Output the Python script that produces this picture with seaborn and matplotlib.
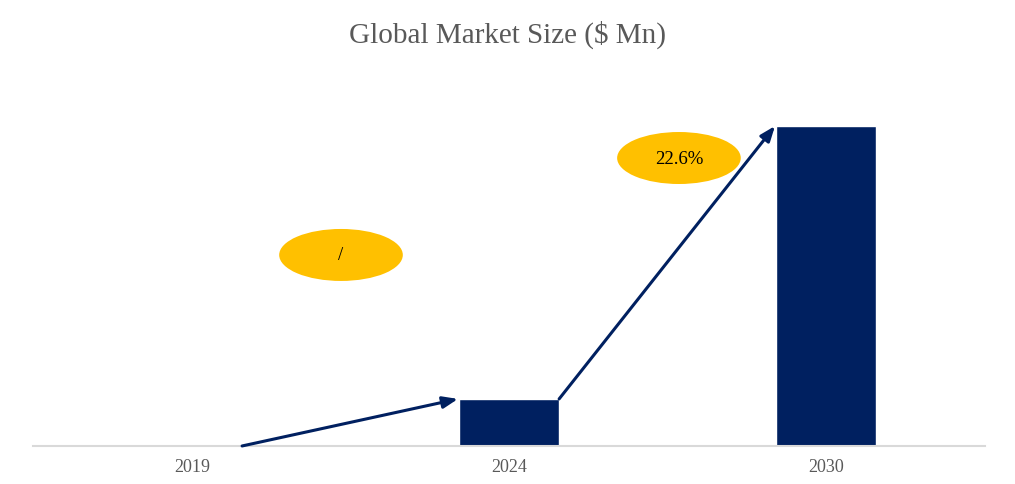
import numpy as np
import pandas as pd
import matplotlib
matplotlib.use('Agg')
import matplotlib.pyplot as plt
from matplotlib.patches import Ellipse
import seaborn as sns

# chart data
years = ['2019', '2024', '2030']
market_size = [0.0, 29.4, 200.0]
cagr_labels = ['/', '22.6%']

df = pd.DataFrame({'year': years, 'size': market_size})

sns.set_style('white')
plt.rcParams['font.family'] = ['Liberation Serif', 'DejaVu Serif']

navy = '#002060'
gold = '#FFC000'
grey = '#595959'

fig = plt.figure(figsize=(10.15, 4.85), dpi=100)
ax = fig.add_axes([0.033, 0.0784, 0.937, 0.7567])

sns.barplot(data=df, x='year', y='size', color=navy, width=0.315,
            saturation=1, ax=ax)

ax.set_xlim(-0.5, 2.5)
ax.set_ylim(0, 229.4)

# growth arrows between bars
half = 0.158
for i in range(len(years) - 1):
    ax.annotate('', xy=(i + 1 - half - 0.003, market_size[i + 1]),
                xytext=(i + half, market_size[i]),
                arrowprops=dict(arrowstyle='-|>,head_length=0.9,head_width=0.35',
                                color=navy, lw=2.2, shrinkA=0, shrinkB=0))

# CAGR ellipses
ell_pos = [(0.47, 119.4), (1.536, 180.0)]
for (ex, ey), lab in zip(ell_pos, cagr_labels):
    ax.add_patch(Ellipse((ex, ey), width=0.39, height=32.5,
                         facecolor=gold, edgecolor='none', zorder=3))
    ax.text(ex, ey, lab, ha='center', va='center', fontsize=13.5,
            color='black', zorder=4)

# axes styling
sns.despine(ax=ax, left=True)
ax.spines['bottom'].set_color('#d9d9d9')
ax.spines['bottom'].set_linewidth(1.5)
ax.set_yticks([])
ax.set_xlabel('')
ax.set_ylabel('')
ax.tick_params(axis='x', length=0, pad=9, labelsize=13, labelcolor=grey)

fig.text(0.5, 0.928, 'Global Market Size ($ Mn)', ha='center', va='center',
         fontsize=21, color=grey)

plt.savefig('out.png', dpi=100)
